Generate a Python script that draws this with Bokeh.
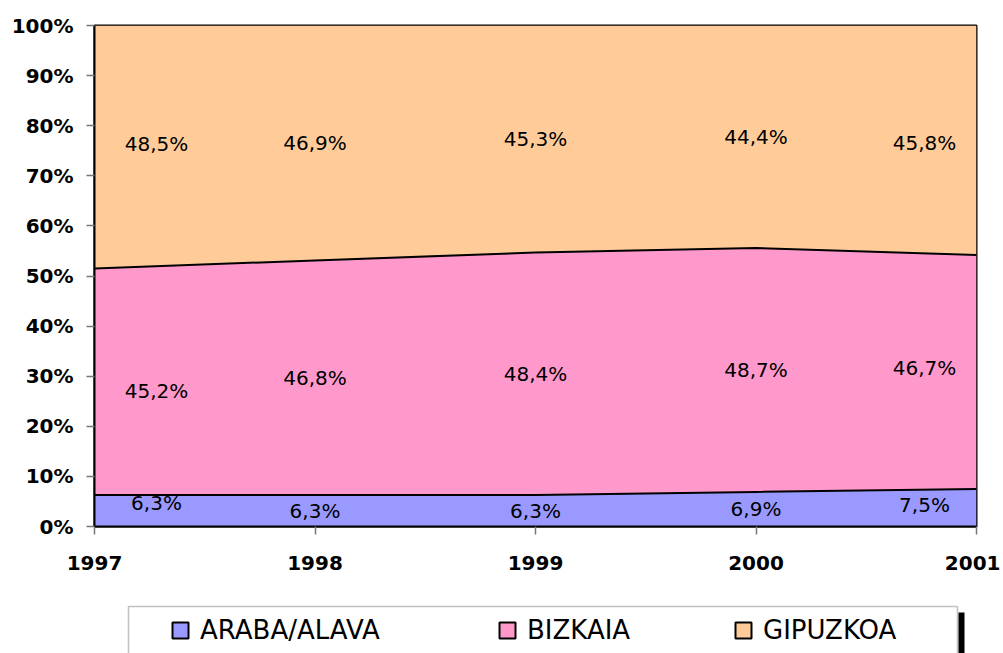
from bokeh.plotting import figure
from bokeh.layouts import column
from bokeh.models import (ColumnDataSource, FixedTicker, PrintfTickFormatter, Legend,
                          LegendItem, BoxAnnotation, Range1d)
from bokeh.embed import file_html
from bokeh.resources import INLINE
from bokeh.core.properties import value

years = [1997, 1998, 1999, 2000, 2001]
year_labels = ["1997", "1998", "1999", "2000", "2001"]
series_names = ["ARABA/ALAVA", "BIZKAIA", "GIPUZKOA"]
araba = [6.3, 6.3, 6.3, 6.9, 7.5]
bizkaia = [45.2, 46.8, 48.4, 48.7, 46.7]
gipuzkoa = [48.5, 46.9, 45.3, 44.4, 45.8]
colors = ["#9999FF", "#FF99CC", "#FFCC99"]
y_ticks = [0, 10, 20, 30, 40, 50, 60, 70, 80, 90, 100]

series = [araba, bizkaia, gipuzkoa]

BL, BR = 94, 24

p = figure(width=1000, height=590, output_backend="svg", toolbar_location=None,
           x_range=Range1d(1997, 2001), y_range=Range1d(0, 100),
           min_border_left=BL, min_border_right=BR, min_border_top=25, min_border_bottom=64)
p.background_fill_color = "white"
p.border_fill_color = "white"
p.outline_line_color = "black"
p.outline_line_width = 2
p.xgrid.visible = False
p.ygrid.visible = False

# stacked areas
base = [0.0] * len(years)
tops = []
for vals, col in zip(series, colors):
    top = [b + v for b, v in zip(base, vals)]
    p.varea(x=years, y1=base, y2=top, fill_color=col)
    tops.append((list(base), top))
    base = top

# boundary lines
for (b, t) in tops[:-1]:
    p.line(x=years, y=t, line_color="black", line_width=2)

# data labels at band midpoints
x_off = [62, 0, 0, 0, -52]
y_off_series = [[-8, 0, 0, 0, -3], [9, 0, 0, 0, -4], [-3, 0, 0, 0, 3]]
for (b, t), vals, yoffs in zip(tops, series, y_off_series):
    mids = [(bb + tt) / 2 for bb, tt in zip(b, t)]
    texts = [("%.1f" % v).replace(".", ",") + "%" for v in vals]
    src = ColumnDataSource(dict(x=years, y=mids, text=texts, xo=x_off, yo=yoffs))
    p.text(x="x", y="y", text="text", x_offset="xo", y_offset="yo", source=src,
           text_font=value("DejaVu Sans"), text_font_size="20px", text_color="black",
           text_align="center", text_baseline="middle")

# axes
p.xaxis.ticker = FixedTicker(ticks=years)
p.xaxis.major_label_overrides = {y: l for y, l in zip(years, year_labels)}
p.yaxis.ticker = FixedTicker(ticks=y_ticks)
p.yaxis.formatter = PrintfTickFormatter(format="%d%%")
for ax in (p.xaxis[0], p.yaxis[0]):
    ax.axis_line_color = "black"
    ax.axis_line_width = 2
    ax.major_tick_line_color = "#777777"
    ax.major_tick_line_width = 1.5
    ax.major_tick_in = 0
    ax.major_tick_out = 8
    ax.minor_tick_line_color = None
    ax.major_label_text_font = "DejaVu Sans"
    ax.major_label_text_font_style = "bold"
    ax.major_label_text_font_size = "20px"
    ax.major_label_text_color = "black"
p.xaxis.major_label_standoff = 21
p.yaxis.major_label_standoff = 13

# legend area: a second figure, frame aligned with the chart's frame
q = figure(width=1000, height=63, output_backend="svg", toolbar_location=None,
           x_range=Range1d(0, 1), y_range=Range1d(0, 1),
           x_axis_type=None, y_axis_type=None,
           min_border_left=BL, min_border_right=BR, min_border_top=0, min_border_bottom=0)
q.outline_line_color = None
q.background_fill_color = "white"
q.border_fill_color = "white"
q.xgrid.visible = False
q.ygrid.visible = False

frame = BoxAnnotation(left=128, right=957, top=16, bottom=120,
                      left_units="canvas", right_units="canvas",
                      top_units="canvas", bottom_units="canvas",
                      fill_color="white", fill_alpha=1.0,
                      line_color="#333333", line_width=1.5, level="underlay")
shadow = BoxAnnotation(left=958, right=964, top=22, bottom=120,
                       left_units="canvas", right_units="canvas",
                       top_units="canvas", bottom_units="canvas",
                       fill_color="black", fill_alpha=1.0, line_color=None, level="underlay")
q.add_layout(shadow)
q.add_layout(frame)

leg_x = [170, 497, 733]
nan = float("nan")
for name, col, lx in zip(series_names, colors, leg_x):
    r = q.quad(left=[nan], right=[nan], top=[nan], bottom=[nan], fill_color=col,
               line_color="black", line_width=2)
    leg = Legend(items=[LegendItem(label=name, renderers=[r])], location=(lx - BL, 8),
                 orientation="horizontal", padding=0, margin=0, spacing=0,
                 border_line_color=None, background_fill_alpha=0,
                 glyph_width=20, glyph_height=20, label_standoff=10,
                 label_text_font="DejaVu Sans", label_text_font_size="26px",
                 label_text_color="black", label_height=20)
    q.add_layout(leg)

layout = column(p, q, spacing=0)
open("out.html", "w").write(file_html(layout, INLINE))
